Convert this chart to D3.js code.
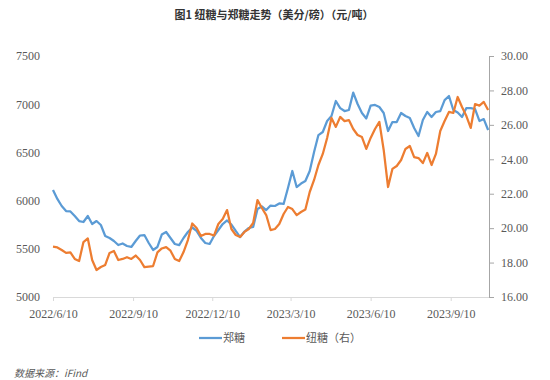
<!DOCTYPE html>
<html><head><meta charset="utf-8">
<script src="https://cdn.jsdelivr.net/npm/d3@7"></script>
<style>html,body{margin:0;padding:0;background:#fff;}svg{display:block;}
.ax text{font-family:'Liberation Serif','Times New Roman',serif;font-size:12px;fill:#595959;}</style>
</head><body>
<svg id="c" width="550" height="380"></svg>
<script>
const dates = ["2022-06-10","2022-06-15","2022-06-20","2022-06-25","2022-06-30","2022-07-05","2022-07-10","2022-07-15","2022-07-20","2022-07-25",
"2022-07-30","2022-08-04","2022-08-09","2022-08-14","2022-08-19","2022-08-24","2022-08-29","2022-09-03","2022-09-08","2022-09-13",
"2022-09-18","2022-09-23","2022-09-28","2022-10-03","2022-10-08","2022-10-13","2022-10-18","2022-10-23","2022-10-28","2022-11-02",
"2022-11-07","2022-11-12","2022-11-17","2022-11-22","2022-11-27","2022-12-02","2022-12-07","2022-12-12","2022-12-17","2022-12-22",
"2022-12-27","2023-01-01","2023-01-06","2023-01-11","2023-01-16","2023-01-21","2023-01-26","2023-01-31","2023-02-05","2023-02-10",
"2023-02-15","2023-02-20","2023-02-25","2023-03-02","2023-03-07","2023-03-12","2023-03-17","2023-03-22","2023-03-27","2023-04-01",
"2023-04-06","2023-04-11","2023-04-16","2023-04-21","2023-04-26","2023-05-01","2023-05-06","2023-05-11","2023-05-16","2023-05-21",
"2023-05-26","2023-05-31","2023-06-05","2023-06-10","2023-06-15","2023-06-20","2023-06-25","2023-06-30","2023-07-05","2023-07-10",
"2023-07-15","2023-07-20","2023-07-25","2023-07-30","2023-08-04","2023-08-09","2023-08-14","2023-08-19","2023-08-24","2023-08-29",
"2023-09-03","2023-09-08","2023-09-13","2023-09-18","2023-09-23","2023-09-28","2023-10-03","2023-10-08","2023-10-13","2023-10-18",
"2023-10-23"];
// 郑糖 (元/吨), left axis
const zhengTang = [6110,6017,5944,5892,5887,5840,5788,5778,5840,5757,
5788,5747,5633,5612,5581,5539,5555,5529,5519,5581,
5638,5643,5560,5488,5519,5648,5674,5612,5550,5539,
5612,5674,5721,5685,5612,5560,5550,5633,5695,5757,
5794,5752,5685,5622,5679,5716,5726,5913,5939,5902,
5949,5944,5970,5965,6131,6307,6141,6177,6203,6307,
6504,6680,6712,6826,6878,7033,6960,6929,6940,7120,
7002,6909,6852,6986,6992,6971,6909,6722,6815,6815,
6909,6878,6857,6753,6670,6836,6919,6867,6919,6929,
7043,7085,6940,6914,6867,6960,6960,6950,6826,6846,
6732];
// 纽糖 (美分/磅), right axis
const niuTang = [18.92,18.88,18.73,18.56,18.59,18.21,18.09,19.19,19.40,18.15,
17.57,17.74,17.86,18.56,18.67,18.15,18.21,18.31,18.21,18.41,
18.15,17.74,17.77,17.80,18.59,18.82,18.90,18.69,18.21,18.09,
18.61,19.31,20.27,20.01,19.54,19.66,19.66,19.57,20.24,20.53,
21.05,19.95,19.60,19.49,19.78,19.95,20.30,21.63,21.17,20.76,
19.89,19.95,20.24,20.82,21.23,21.11,20.76,20.94,21.08,22.10,
22.80,23.67,24.31,25.24,26.40,25.88,26.46,26.22,26.28,25.76,
25.41,25.29,24.60,25.24,25.76,26.17,24.54,22.39,23.44,23.61,
23.96,24.60,24.77,24.13,24.07,23.78,24.37,23.67,24.31,25.64,
26.22,26.75,26.69,27.62,27.04,26.51,25.82,27.21,27.12,27.33,
26.86];
const xTicks = ["2022-06-10","2022-09-10","2022-12-10","2023-03-10","2023-06-10","2023-09-10"];
const xTickLabels = ["2022/6/10","2022/9/10","2022/12/10","2023/3/10","2023/6/10","2023/9/10"];
const leftTicks = [5000,5500,6000,6500,7000,7500];
const rightTicks = [16,18,20,22,24,26,28,30];
const seriesNames = ["郑糖","纽糖（右）"];
const titleText = "图1 纽糖与郑糖走势（美分/磅）（元/吨）";
const sourceText = "数据来源：iFind";

(function () {
const parse = d3.timeParse("%Y-%m-%d");
const svg = d3.select("#c");
const pl = 53, pr = 489, pt = 56, pb = 297;
const x = d3.scaleTime().domain([parse("2022-06-10"), parse("2023-10-24")]).range([pl, pr]);
const yL = d3.scaleLinear().domain([5000, 7500]).range([pb, pt]);
const yR = d3.scaleLinear().domain([16, 30]).range([pb, pt]);
const cjk = "'Noto Sans CJK SC','Noto Sans',sans-serif";
const txt = "#595959";

svg.append("text").attr("x", 274).attr("y", 19).attr("text-anchor", "middle")
  .style("font-family", cjk).style("font-size", "11px").style("font-weight", "bold").style("fill", "#333")
  .text(titleText);

// x axis
const xa = svg.append("g").attr("class", "ax").attr("transform", `translate(0,${pb})`)
  .call(d3.axisBottom(x).tickValues(xTicks.map(parse)).tickSize(4).tickSizeOuter(0)
    .tickFormat((d, i) => xTickLabels[i]));
xa.select(".domain").attr("stroke", "#d9d9d9");
xa.selectAll(".tick line").attr("stroke", "#d9d9d9");
xa.selectAll(".tick text").attr("dy", "1.2em");

// left axis (no line)
const la = svg.append("g").attr("class", "ax").attr("transform", `translate(${pl},0)`)
  .call(d3.axisLeft(yL).tickValues(leftTicks).tickSize(0).tickPadding(13).tickFormat(d3.format("d")));
la.select(".domain").remove();

// right axis
const ra = svg.append("g").attr("class", "ax").attr("transform", `translate(${pr},0)`)
  .call(d3.axisRight(yR).tickValues(rightTicks).tickSize(5).tickSizeOuter(0).tickPadding(7).tickFormat(d3.format(".2f")));
ra.select(".domain").attr("stroke", "#a6a6a6");
ra.selectAll(".tick line").attr("stroke", "#a6a6a6");

const pd = dates.map(parse);
const lineL = d3.line().x((d, i) => x(pd[i])).y(d => yL(d));
const lineR = d3.line().x((d, i) => x(pd[i])).y(d => yR(d));
svg.append("path").datum(zhengTang).attr("d", lineL).attr("fill", "none")
  .attr("stroke", "#5B9BD5").attr("stroke-width", 2.25).attr("stroke-linejoin", "round");
svg.append("path").datum(niuTang).attr("d", lineR).attr("fill", "none")
  .attr("stroke", "#ED7D31").attr("stroke-width", 2.25).attr("stroke-linejoin", "round");

// legend
const colors = ["#5B9BD5", "#ED7D31"];
const legX = [199, 282];
seriesNames.forEach((n, i) => {
  svg.append("line").attr("x1", legX[i]).attr("x2", legX[i] + 23).attr("y1", 338).attr("y2", 338)
    .attr("stroke", colors[i]).attr("stroke-width", 2.25);
  svg.append("text").attr("x", legX[i] + 24).attr("y", 342).style("font-family", cjk)
    .style("font-size", "11px").style("fill", txt).text(n);
});

svg.append("text").attr("x", 14).attr("y", 377).style("font-family", cjk).style("font-size", "10px")
  .style("font-style", "italic").style("fill", txt).text(sourceText);
})();
</script>
</body></html>
